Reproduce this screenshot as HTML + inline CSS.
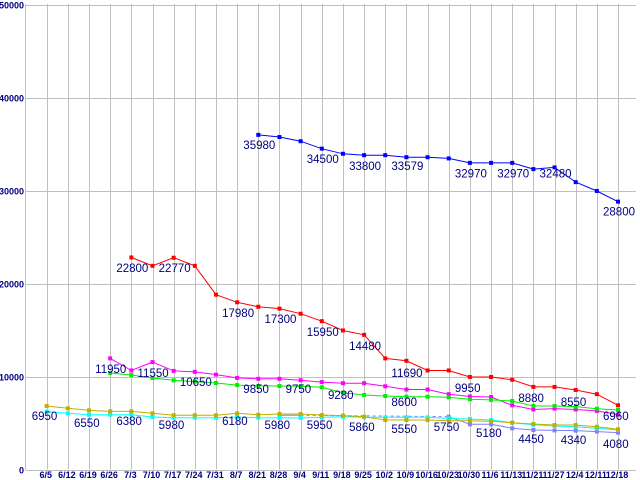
<!DOCTYPE html>
<html><head><meta charset="utf-8"><style>
html,body{margin:0;padding:0;background:#fff;}
svg{display:block;}
.ax{font-family:"Liberation Sans",sans-serif;font-size:9px;font-weight:bold;fill:#000080;}
.lb{font-family:"Liberation Sans",sans-serif;font-size:11.5px;fill:#000080;}
</style></head><body>
<svg id="chart" width="640" height="480" viewBox="0 0 640 480" xmlns="http://www.w3.org/2000/svg">
<g id="grid"></g>
<g id="axes"></g>
<g id="series"></g>
<g id="labels"></g>
</svg>
<script>
const categories = ["6/5","6/12","6/19","6/26","7/3","7/10","7/17","7/24","7/31","8/7","8/21","8/28","9/4","9/11","9/18","9/25","10/2","10/9","10/16","10/23","10/30","11/6","11/13","11/21","11/27","12/4","12/11","12/18"];
const yTicks = [0,10000,20000,30000,40000,50000];
const N = null;
const blueVals = [N,N,N,N,N,N,N,N,N,N,35980,35750,35300,34500,33950,33800,33800,33579,33579,33450,32970,32970,32970,32300,32480,30900,29950,28800];
const redVals = [N,N,N,N,22800,21900,22770,21900,18800,17980,17500,17300,16750,15950,14950,14480,11950,11690,10650,10650,9950,9950,9650,8880,8880,8550,8100,6900];
const magentaVals = [N,N,N,11950,10650,11550,10600,10500,10200,9850,9750,9750,9600,9400,9280,9280,8950,8600,8600,8100,7850,7800,6900,6450,6550,6450,6300,5900];
const greenVals = [N,N,N,10380,10160,9840,9590,9450,9300,9080,9000,8980,8950,8840,8260,8010,7900,7830,7830,7760,7550,7480,7370,6830,6830,6760,6540,6400];
const purpleVals = [N,N,N,N,N,N,N,N,N,N,N,5830,5830,N,N,N,N,N,N,5680,4860,4860,4430,4250,4200,4180,4080,3970];
const cyanVals = [6220,6040,5890,5890,5890,5650,5570,5570,5570,5650,5570,5550,5550,5600,5680,5610,5610,5610,5610,5500,5430,5320,5030,4820,4680,4600,4430,4250];
const oliveVals = [6830,6580,6360,6250,6250,6040,5830,5830,5830,6040,5890,5970,5970,5860,5800,5680,5320,5320,5320,5250,5250,5180,5030,4890,4780,4780,4600,4320];
const labelIdx = [10,13,15,17,20,22,24,27, 4,6,9,11,13,15,17,20,23,25,27, 3,5,7,10,12,14,17,0,2,4,6,9,11,13,15,17,19,21,23,25,27];
const labelPos = [35430,33920,33170,33170,32340,32340,32340,28260, 22200,22200,17370,16720,15320,13820,10910,9300,8220,7800,6290, 11340,10910,9950,9190,9190,8550,7800,6290,5540,5750,5320,5750,5320,5320,5110,4890,5110,4460,3820,3710,3280];
const labelText = ["35980","34500","33800","33579","32970","32970","32480","28800","22800","22770","17980","17300","15950","14480","11690","9950","8880","8550","6960","11950","11550","10650","9850","9750","9280","8600","6950","6550","6380","5980","6180","5980","5950","5860","5550","5750","5180","4450","4340","4080"];

const NS = "http://www.w3.org/2000/svg";
const X0 = 46.7, DX = 21.16, Y0 = 469.5, KY = 0.0093, LEFT = 25.5, RIGHT = 636;
function xpos(i){ return X0 + i*DX; }
function ypos(v){ return Y0 - v*KY; }
function mk(tag, attrs, parent){ const e = document.createElementNS(NS, tag); for (const k in attrs) e.setAttribute(k, attrs[k]); parent.appendChild(e); return e; }

const grid = document.getElementById('grid'), axes = document.getElementById('axes'), ser = document.getElementById('series'), lab = document.getElementById('labels');
yTicks.forEach(t => {
  const y = Math.round(ypos(t)) + 0.5;
  const l = mk('line', {x1:LEFT, x2:RIGHT, y1:y, y2:y, stroke:'#c0c0c0', 'stroke-width':1}, grid);
  
  
  const tx = mk('text', {x:24, y:y+3, 'text-anchor':'end', class:'ax'}, axes);
  tx.textContent = String(t);
  
  
});
categories.forEach((c, i) => {
  const x = Math.round(xpos(i)) + 0.5;
  const l = mk('line', {x1:x, x2:x, y1:4, y2:Y0, stroke:'#c0c0c0', 'stroke-width':1}, grid);
  
  
  const tx = mk('text', {x:xpos(i)-1, y:478, 'text-anchor':'middle', class:'ax'}, axes);
  tx.textContent = c;
  
  
});
const ax = mk('line', {x1:LEFT, x2:LEFT, y1:4, y2:Y0+0.5, stroke:'#c0c0c0', 'stroke-width':1}, axes);



function drawSeries(vals, color, name){
  const g = mk('g', {}, ser);
  
  
  let prev = -1, seg = [];
  const flush = () => { if (seg.length > 1) mk('polyline', {points: seg.join(' '), fill:'none', stroke:color, 'stroke-width':1}, g); seg = []; };
  vals.forEach((v, i) => {
    if (v === null) return;
    if (prev >= 0 && prev !== i-1) {
      flush();
      mk('line', {x1:xpos(prev), y1:ypos(vals[prev]), x2:xpos(i), y2:ypos(v), stroke:color, 'stroke-width':1, 'stroke-dasharray':'3,3'}, g);
    }
    seg.push(xpos(i).toFixed(1) + ',' + ypos(v).toFixed(1));
    prev = i;
  });
  flush();
  vals.forEach((v, i) => {
    if (v === null) return;
    const r = mk('rect', {x:xpos(i)-2, y:ypos(v)-2, width:4, height:4, fill:color}, g);
    
    
  });
}
drawSeries(blueVals, '#0000ff', 'series-blue');
drawSeries(redVals, '#ff0000', 'series-red');
drawSeries(magentaVals, '#ff00ff', 'series-magenta');
drawSeries(greenVals, '#00ee00', 'series-green');
drawSeries(purpleVals, '#8080ff', 'series-lavender');
drawSeries(cyanVals, '#00ffff', 'series-cyan');
drawSeries(oliveVals, '#c0b000', 'series-olive');

labelText.forEach((t, k) => {
  const tx = mk('text', {x:xpos(labelIdx[k])-15, y:ypos(labelPos[k])+9, class:'lb'}, lab);
  tx.textContent = t;
  
  
});
</script>
</body></html>
